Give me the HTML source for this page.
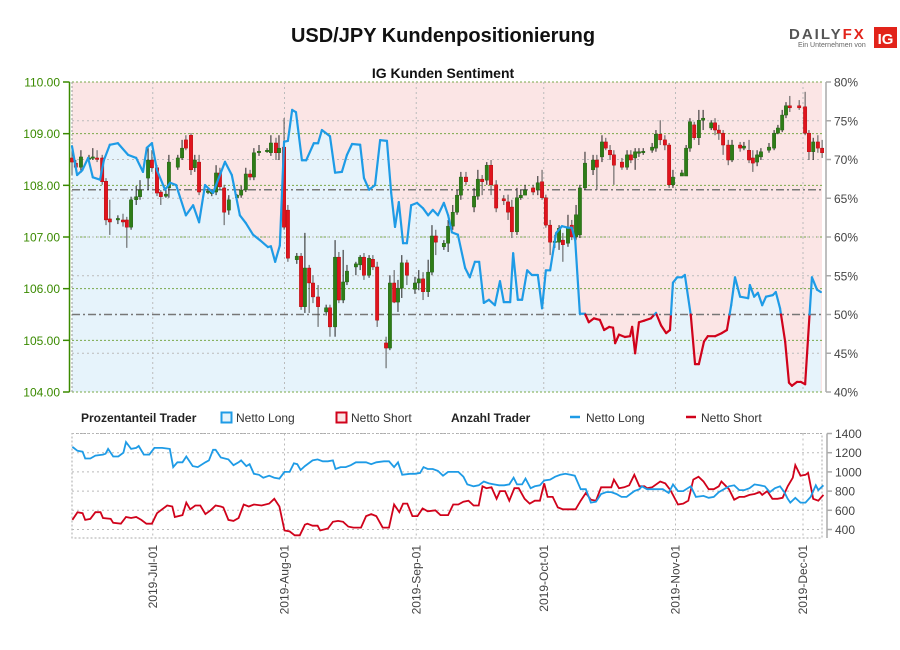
<!DOCTYPE html>
<html><head><meta charset="utf-8"><style>
html,body{margin:0;padding:0;background:#fff;}
svg{display:block;font-family:"Liberation Sans",sans-serif;}
.nar{font-family:"Liberation Sans Narrow","Liberation Sans",sans-serif;}
</style></head><body>
<svg id="chart" width="900" height="650" viewBox="0 0 900 650" xmlns="http://www.w3.org/2000/svg">
<text x="443" y="42" text-anchor="middle" font-size="20" font-weight="bold" fill="#111">USD/JPY Kundenpositionierung</text>
<text x="443" y="78" text-anchor="middle" font-size="14" font-weight="bold" fill="#111">IG Kunden Sentiment</text>
<g>
<text x="789" y="39" font-size="15" font-weight="bold" fill="#555" letter-spacing="2">DAILY<tspan fill="#e2231a">FX</tspan></text>
<text x="798" y="47" font-size="7" fill="#666">Ein Unternehmen von</text>
<rect x="874" y="27" width="23" height="21" fill="#e2231a"/>
<text x="885.5" y="44" text-anchor="middle" font-size="15" font-weight="bold" fill="#fff">IG</text>
</g>
<g id="main"></g>
<g id="legend" class="nar" font-size="12">
<text x="81" y="422" font-weight="bold" fill="#222">Prozentanteil Trader</text>
<rect x="221.5" y="412.5" width="10" height="10" fill="#e6f3fb" stroke="#1e9be6" stroke-width="2"/>
<text x="236" y="422" fill="#333">Netto Long</text>
<rect x="336.5" y="412.5" width="10" height="10" fill="#fbe5e5" stroke="#d0021b" stroke-width="2"/>
<text x="351" y="422" fill="#333">Netto Short</text>
<text x="451" y="422" font-weight="bold" fill="#222">Anzahl Trader</text>
<line x1="570" y1="417" x2="580" y2="417" stroke="#1e9be6" stroke-width="2.5"/>
<text x="586" y="422" fill="#333">Netto Long</text>
<line x1="686" y1="417" x2="696" y2="417" stroke="#d0021b" stroke-width="2.5"/>
<text x="701" y="422" fill="#333">Netto Short</text>
</g>
<g id="lower"></g>
</svg>
<script>
// ---- data ----
var monthLabels = ["2019-Jul-01","2019-Aug-01","2019-Sep-01","2019-Oct-01","2019-Nov-01","2019-Dec-01"];
var monthDays = [19,50,81,111,142,172];
var priceTicks = [110,109,108,107,106,105,104];
var pctTicks = [80,75,70,65,60,55,50,45,40];
var countTicks = [1400,1200,1000,800,600,400];
var refPct = 66.1;

var cDays = [0,0.9,2.1,4,4.9,5.9,7.1,8,8.9,10.8,12,12.9,13.9,15.1,16,17.9,18.8,20,20.9,22.1,22.8,24.9,25.9,26.8,28,28.9,29.9,32,32.9,33.9,34.8,35.8,36.9,38.8,39.8,40.9,41.9,42.8,44,45.9,46.8,48,48.7,49.9,50.8,52.9,53.9,54.8,55.8,56.7,57.9,59.8,60.7,61.9,62.8,63.8,64.7,66.8,67.8,68.7,69.9,70.8,71.8,73.9,74.8,75.8,76.7,77.6,78.8,80.7,81.6,82.6,83.8,84.7,85.6,87.5,88.5,89.6,90.6,91.5,92.7,94.6,95.5,96.5,97.6,98.6,99.8,101.6,102.6,103.5,104.7,105.6,106.6,108.5,109.6,110.6,111.5,112.5,113.6,114.6,115.5,116.7,117.6,118.6,119.5,120.7,122.6,123.5,124.7,125.6,126.6,127.5,129.4,130.6,131.5,132.5,133.4,134.4,136.5,137.4,138.4,139.5,140.5,141.4,143.5,144.5,145.4,146.4,147.5,148.5,150.4,151.3,152.2,153.2,154.4,155.3,157.2,158.1,159.3,160.2,161.2,162.1,164,165.2,166.1,167.1,168,168.9,171.1,172.5,173.4,174.4,175.5,176.5];
var cOpen = [108.53,108.43,108.35,108.51,108.53,108.53,108.53,108.08,107.35,107.33,107.33,107.33,107.19,107.72,107.78,108.14,108.49,108.34,107.87,107.79,107.95,108.35,108.53,108.88,108.97,108.34,108.45,107.87,107.85,107.87,108.24,107.95,107.52,107.76,107.81,107.91,108.22,108.16,108.63,108.66,108.63,108.82,108.63,108.74,107.52,106.56,106.63,105.65,106.40,106.11,105.84,105.55,105.63,105.26,106.61,105.78,106.13,106.42,106.46,106.61,106.26,106.57,106.42,104.95,104.85,106.11,105.74,106.01,106.50,105.99,106.11,106.19,105.94,106.32,107.02,106.81,106.88,107.21,107.48,107.81,108.16,107.58,107.79,108.12,108.10,108.39,108.01,107.74,107.68,107.58,107.10,107.76,107.81,107.95,107.91,108.07,107.76,107.23,106.90,106.90,106.94,106.88,107.23,107.00,107.04,107.95,108.30,108.49,108.55,108.84,108.68,108.59,108.45,108.35,108.59,108.53,108.63,108.63,108.68,108.72,108.99,108.88,108.78,108.01,108.18,108.18,108.72,109.17,108.92,109.26,109.11,109.21,109.07,109.01,108.78,108.49,108.78,108.72,108.68,108.53,108.45,108.55,108.68,108.72,109.01,109.07,109.36,109.54,109.54,109.52,109.01,108.65,108.84,108.72];
var cHigh = [108.78,108.49,108.68,108.59,108.72,108.68,108.59,108.14,107.72,107.42,107.45,107.39,107.78,107.99,108.10,108.72,108.68,108.39,107.91,107.91,108.59,108.59,108.88,108.97,109.01,108.59,108.59,107.95,107.91,108.39,108.34,108.01,107.81,107.83,107.99,108.34,108.30,108.72,108.78,108.72,108.97,108.92,108.97,109.30,107.62,106.69,106.69,107.08,106.46,106.26,106.07,105.69,105.69,106.94,106.71,106.75,106.46,106.52,106.65,106.69,106.65,106.65,106.52,105.07,106.26,106.36,106.17,106.65,106.56,106.23,106.36,106.32,106.56,107.23,107.14,106.94,107.33,107.62,107.91,108.26,108.26,107.95,108.30,108.20,108.45,108.49,108.10,107.81,107.82,107.72,107.95,107.91,108.01,108.01,108.18,108.30,107.82,107.33,107.04,107.23,107.08,107.43,107.33,107.62,108.01,108.65,108.59,108.59,108.97,108.92,108.78,108.68,108.53,108.68,108.68,108.72,108.72,108.72,108.82,109.07,109.26,108.97,108.82,108.30,108.30,108.78,109.30,109.23,109.46,109.46,109.26,109.30,109.17,109.07,108.88,108.88,108.84,108.84,108.88,108.68,108.68,108.72,108.82,109.07,109.17,109.46,109.61,109.73,109.65,109.81,109.07,108.92,108.97,108.88];
var cLow = [108.20,108.30,108.24,108.45,108.49,108.45,108.01,107.23,107.04,107.25,107.20,106.79,107.14,107.62,107.72,107.91,108.26,107.79,107.62,107.76,107.76,108.30,108.49,108.68,108.20,108.26,107.81,107.83,107.79,107.81,107.91,107.23,107.43,107.72,107.76,107.87,108.10,108.10,108.57,108.63,108.57,108.49,108.49,107.14,106.52,106.48,105.59,105.53,105.53,105.72,105.26,105.48,105.07,105.07,105.72,105.72,106.07,106.26,106.36,106.17,106.21,106.36,105.26,104.46,104.81,105.72,105.55,105.82,106.07,105.90,105.97,105.78,105.84,106.26,106.65,106.75,106.71,107.14,107.43,107.72,108.01,107.48,107.72,107.81,108.01,107.81,107.48,107.62,107.33,106.98,107.04,107.72,107.85,107.81,107.81,107.72,107.18,106.65,106.79,106.75,106.52,106.81,106.94,106.94,106.98,107.91,108.20,107.91,108.45,108.68,108.49,108.01,108.30,108.30,108.43,108.30,108.55,108.59,108.63,108.65,108.78,108.68,107.95,107.95,108.20,108.20,108.65,108.88,108.78,109.07,109.07,108.97,108.88,108.59,108.39,108.45,108.65,108.68,108.43,108.26,108.37,108.49,108.63,108.68,108.99,109.03,109.30,109.42,109.46,108.97,108.49,108.49,108.63,108.53];
var cClose = [108.45,108.35,108.55,108.53,108.55,108.51,108.07,107.33,107.29,107.36,107.29,107.19,107.72,107.78,107.91,108.49,108.34,107.85,107.78,107.83,108.45,108.53,108.72,108.72,108.30,108.49,107.87,107.89,107.87,108.24,107.97,107.48,107.72,107.81,107.91,108.22,108.16,108.63,108.66,108.68,108.82,108.63,108.72,107.19,106.59,106.63,105.65,106.40,106.11,105.84,105.65,105.63,105.26,106.61,105.78,106.13,106.34,106.48,106.61,106.26,106.59,106.42,105.39,104.85,106.11,105.74,106.01,106.50,106.26,106.11,106.19,105.94,106.32,107.02,106.90,106.88,107.21,107.48,107.81,108.16,108.07,107.79,108.12,108.07,108.39,108.01,107.56,107.70,107.48,107.10,107.76,107.81,107.91,107.87,108.05,107.76,107.23,106.90,106.92,107.17,106.85,107.19,107.00,107.43,107.95,108.43,108.49,108.35,108.84,108.72,108.59,108.39,108.35,108.59,108.49,108.65,108.65,108.66,108.74,108.99,108.88,108.78,108.01,108.16,108.24,108.72,109.23,108.92,109.26,109.30,109.21,109.07,109.01,108.78,108.49,108.78,108.72,108.76,108.49,108.43,108.59,108.65,108.74,109.01,109.11,109.36,109.54,109.50,109.50,109.01,108.65,108.84,108.72,108.63];

var sDays = [0,1.2,2.4,3.8,4.9,6.6,7.5,8.9,10.8,13.2,15.1,16.7,17.6,18.8,20,21.9,23.1,24.5,26.8,28.5,29.9,31.3,33.2,36,37.6,39.5,40.9,42.6,44.2,46.1,46.8,47.8,48.9,49.9,50.8,51.8,52.7,54.1,55.1,56.9,57.9,58.8,60.7,61.9,63.5,64.7,65.9,67.8,68.7,69.9,71.3,72.5,74.1,75.1,76,76.9,77.9,78.8,79.8,81.2,82.6,83.8,84.9,86.1,87.5,88.5,89.4,90.8,92.5,93.6,94.8,95.8,96.9,98.1,99.5,100.7,101.6,103.1,103.8,104.9,105.9,107.1,108.2,109.6,110.6,111.5,112.5,113.9,115.3,116.7,117.6,118.4,119.5,120.7,121.6,122.8,124.2,125.2,126.4,127.3,127.8,128.7,130.1,131.3,131.8,132.5,133.4,134.6,136.2,137.4,138.6,139.8,140.7,141.4,142.4,143.5,144.2,145.6,146.6,147.5,148.7,149.6,151.3,152.9,154.1,155.1,156,157.2,159.1,159.5,160.5,161.4,162.4,163.3,164.9,165.6,166.6,167.8,168.7,169.4,170.6,171.5,172.5,174.1,175.3,176.2];
var sLongPct = [71.7,68.0,68.6,70.2,67.7,67.4,69.9,71.9,72.1,70.6,70.2,68.4,71.5,72.1,68.6,66.1,67.0,66.7,62.8,64.1,61.9,66.7,65.7,69.7,68.0,62.8,61.8,60.3,59.6,58.7,58.8,56.8,58.9,72.3,72.4,76.4,76.1,69.9,69.9,72.1,72.1,73.8,73.0,68.3,68.4,70.6,72.0,71.9,67.6,66.1,66.7,72.5,72.4,65.7,61.3,64.5,59.2,59.2,64.1,64.4,63.7,62.8,63.5,62.8,64.4,62.8,60.6,60.3,56.0,54.8,56.8,56.8,51.5,51.9,51.2,54.3,51.6,51.6,57.9,51.9,51.9,55.7,55.1,55.1,50.8,55.7,55.7,60.5,61.4,61.2,61.2,59.6,50.1,50.1,49.0,49.5,49.3,48.0,48.4,48.3,46.3,47.4,47.1,47.2,48.4,45.0,49.0,49.2,49.5,50.2,48.6,47.6,48.0,54.1,54.8,54.8,55.1,49.9,43.6,43.6,46.5,47.2,47.2,47.6,48.0,51.2,54.8,52.3,52.1,53.8,52.3,52.8,51.2,52.3,52.5,52.9,50.8,46.5,41.2,40.8,41.3,41.3,41.0,54.8,53.2,52.9];

var longDays = [0.1,1.3,2.5,3.1,4.3,5.5,7.3,7.9,8.5,9.7,10.9,12.1,12.7,13.9,15.1,15.7,16.9,18.2,19.4,21.2,23.0,23.8,24.8,26.0,26.9,28.4,29.6,31.4,32.2,33.2,33.8,35.0,36.8,38.0,39.2,39.8,41.0,41.8,42.8,44.0,45.0,46.4,47.6,48.8,50.0,51.2,52.2,53.0,53.8,54.8,56.6,57.8,59.0,60.2,61.4,62.0,63.2,64.4,65.6,66.8,69.2,70.4,71.6,73.4,74.6,75.8,76.7,77.7,79.5,80.7,81.9,82.7,83.7,84.9,86.1,87.3,88.5,90.9,92.1,93.0,94.5,95.7,96.9,98.1,99.3,100.5,101.7,102.9,103.9,104.7,105.9,106.7,107.9,108.9,110.1,111.1,112.5,113.7,114.9,116.1,117.3,118.3,119.7,120.9,122.1,123.3,124.5,125.7,126.9,128.1,129.3,130.5,131.1,132.3,133.5,134.1,135.3,136.5,137.7,139.0,140.4,141.4,142.6,143.8,145.6,146.8,148.6,149.8,151.0,152.2,153.4,154.6,155.8,157.0,158.2,159.4,160.6,161.8,163.0,164.2,165.4,166.6,167.6,168.4,169.0,170.2,171.4,172.6,173.8,175.0,175.6,176.8];
var longCount = [1260,1220,1210,1140,1140,1170,1180,1190,1240,1160,1160,1200,1310,1240,1250,1270,1180,1180,1250,1250,1240,1050,1100,1100,1160,1060,1050,1100,1120,1230,1230,1150,1130,1070,1100,1120,1060,1080,980,970,940,960,940,930,1000,1000,1090,1080,1020,1060,1120,1130,1110,1110,1120,1030,1050,1050,1070,1100,1100,1080,1100,1110,1110,1050,1100,970,980,980,990,1050,1030,1030,1010,960,1000,1000,950,870,850,860,900,880,870,860,860,870,940,870,870,930,830,850,860,910,920,950,970,980,970,960,820,820,680,690,770,790,790,770,740,740,760,800,820,850,820,820,820,820,780,870,800,800,850,740,750,730,740,790,820,850,860,810,810,830,870,860,850,790,830,850,790,720,680,730,680,680,740,860,810,860];
var shortDays = [0.1,1.3,2.5,3.1,4.3,5.5,6.7,7.3,9.1,9.7,11.5,12.7,13.9,15.1,16.3,17.5,18.8,20.0,21.2,22.4,23.6,24.2,26.0,26.9,27.8,29.0,30.2,31.4,32.6,33.8,35.0,35.6,36.8,38.0,39.2,40.4,41.6,42.8,44.6,46.4,47.6,48.8,50.0,51.2,52.4,53.6,54.8,55.4,56.6,57.8,58.4,60.2,61.4,62.6,63.8,65.0,66.2,68.0,69.2,70.4,71.6,73.1,74.6,75.8,77.0,77.9,78.9,80.1,81.3,82.5,83.7,85.5,86.7,88.5,89.7,90.9,92.1,93.3,94.5,95.7,96.6,97.5,98.7,99.9,100.7,101.9,102.9,104.1,105.1,106.5,107.7,108.9,110.1,111.1,111.9,113.1,114.3,115.5,117.3,118.5,119.7,120.9,122.1,123.3,124.5,126.9,127.5,128.7,129.9,131.1,132.3,133.5,134.7,135.3,136.5,138.4,139.6,140.8,142.6,143.8,145.0,146.2,147.4,148.6,149.8,151.0,152.2,152.8,154.6,155.8,157.0,158.2,159.4,160.6,161.8,162.4,163.6,164.8,166.0,167.2,168.4,169.6,170.2,171.4,172.6,173.2,174.4,175.6,176.8];
var shortCount = [500,580,570,500,510,580,580,520,510,470,460,530,520,530,500,460,460,570,610,650,640,530,550,680,610,650,650,560,600,650,640,630,500,490,520,660,640,660,650,670,720,640,390,380,340,340,450,460,440,440,390,410,480,490,480,430,420,420,540,560,540,420,420,660,580,670,670,540,540,620,590,600,550,550,660,660,690,700,650,650,850,830,840,720,800,800,700,830,830,720,670,700,700,880,740,740,630,610,610,610,700,780,710,700,840,840,920,830,840,860,970,850,850,830,840,900,880,810,660,670,700,920,950,900,820,820,850,900,820,710,740,740,760,770,790,760,800,720,720,730,850,940,1070,960,970,990,720,700,760];

// ---- scales ----
var X0 = 72, X1 = 822, DAY_PX = 4.25;
function xs(d){ return X0 + d*DAY_PX; }
var Y0 = 82, Y1 = 392;
function yPrice(p){ return Y0 + (110-p)/(110-104)*(Y1-Y0); }
function yPct(p){ return Y0 + (80-p)/(80-40)*(Y1-Y0); }
var CY0 = 433.5, CY1 = 529.5;
function yCount(v){ return CY0 + (1400-v)/(1400-400)*(CY1-CY0); }

var NS = "http://www.w3.org/2000/svg";
function mk(parent, tag, attrs){
  var el = document.createElementNS(NS, tag);
  for (var k in attrs) el.setAttribute(k, attrs[k]);
  parent.appendChild(el);
  return el;
}
var main = document.getElementById('main');
var lower = document.getElementById('lower');

// ---- backgrounds & fills ----
var bg = mk(main,'rect',{x:X0,y:Y0,width:X1-X0,height:Y1-Y0,fill:'#fbe5e5'});


var areaD = 'M'+xs(sDays[0])+','+Y1;
for (var i=0;i<sDays.length;i++) areaD += ' L'+xs(sDays[i]).toFixed(1)+','+yPct(sLongPct[i]).toFixed(1);
areaD += ' L'+xs(sDays[sDays.length-1]).toFixed(1)+','+Y1+' Z';
var area = mk(main,'path',{d:areaD,fill:'#e6f3fb'});



// ---- grid ----
priceTicks.forEach(function(p){
  var y = yPrice(p);
  var g = mk(main,'line',{x1:X0,x2:X1,y1:y,y2:y,stroke:'#7aa84a','stroke-width':1,'stroke-dasharray':'2,2'});
  
  
});
pctTicks.forEach(function(p){
  if (p===80||p===40||p===50) return;
  var y = yPct(p);
  var g = mk(main,'line',{x1:X0,x2:X1,y1:y,y2:y,stroke:'#bbb','stroke-width':1,'stroke-dasharray':'2,3'});
  
  
});
monthDays.forEach(function(d){
  var x = xs(d);
  var g = mk(main,'line',{x1:x,x2:x,y1:Y0,y2:Y1,stroke:'#bbb','stroke-width':1,'stroke-dasharray':'2,3'});
  
  
});
var lb = mk(main,'line',{x1:X0,x2:X0,y1:Y0,y2:Y1,stroke:'#999','stroke-dasharray':'2,2'});



// reference lines
[refPct,50].forEach(function(p){
  var y = yPct(p);
  var r = mk(main,'line',{x1:X0,x2:X1,y1:y,y2:y,stroke:'#777','stroke-width':1.5,'stroke-dasharray':'8,3,2,3'});
  
  
});

// ---- candles ----
for (var i=0;i<cDays.length;i++){
  var cx = xs(cDays[i]);
  var up = cClose[i] >= cOpen[i];
  var w = mk(main,'line',{x1:cx,x2:cx,y1:yPrice(cHigh[i]),y2:yPrice(cLow[i]),stroke: up?'#222':'#555','stroke-width':1});
  
  
  var bTop = yPrice(Math.max(cOpen[i],cClose[i])), bBot = yPrice(Math.min(cOpen[i],cClose[i]));
  var bh = Math.max(bBot-bTop,1.5);
  var b = mk(main,'rect',{x:cx-1.7,y:bTop,width:3.4,height:bh,fill: up?'#2e7d17':'#e0141e',stroke: up?'#1f5a10':'#a00','stroke-width':0.4});
  
  
}

// ---- sentiment line (blue above 50, red below) ----
for (var i=0;i<sDays.length-1;i++){
  var d1=sDays[i], v1=sLongPct[i], d2=sDays[i+1], v2=sLongPct[i+1];
  var parts=[];
  if ((v1-50)*(v2-50) < 0){
    var t=(50-v1)/(v2-v1), dm=d1+t*(d2-d1);
    parts.push([d1,v1,dm,50,v1<50]); parts.push([dm,50,d2,v2,v2<50]);
  } else parts.push([d1,v1,d2,v2,(v1+v2)/2<50]);
  parts.forEach(function(s){
    var seg = mk(main,'line',{x1:xs(s[0]),y1:yPct(s[1]),x2:xs(s[2]),y2:yPct(s[3]),stroke:s[4]?'#d0021b':'#1e9be6','stroke-width':2.2,'stroke-linecap':'round'});
    
    
  });
}

// ---- axes ----
var la = mk(main,'line',{x1:69.5,x2:69.5,y1:Y0,y2:Y1,stroke:'#3a8a00','stroke-width':1.5});


priceTicks.forEach(function(p){
  var y = yPrice(p);
  var t = mk(main,'line',{x1:63,x2:69.5,y1:y,y2:y,stroke:'#3a8a00','stroke-width':1.5});
  
  
  var tx = mk(main,'text',{x:60,y:y+4.5,'text-anchor':'end','font-size':12,fill:'#3a8a00','class':'nar'});
  tx.textContent = p.toFixed(2);
  
  
});
var ra = mk(main,'line',{x1:826,x2:826,y1:Y0,y2:Y1,stroke:'#aaa','stroke-width':1.5});


pctTicks.forEach(function(p){
  var y = yPct(p);
  var t = mk(main,'line',{x1:826,x2:831,y1:y,y2:y,stroke:'#aaa','stroke-width':1.5});
  
  
  var tx = mk(main,'text',{x:834,y:y+4.5,'font-size':12,fill:'#444','class':'nar'});
  tx.textContent = p+'%';
  
  
});

// ---- lower panel ----
var lbox = mk(lower,'rect',{x:X0,y:CY0,width:X1-X0,height:538-CY0,fill:'none',stroke:'#aaa','stroke-dasharray':'2,2'});


countTicks.forEach(function(v){
  var y = yCount(v);
  var g = mk(lower,'line',{x1:X0,x2:X1,y1:y,y2:y,stroke:'#bbb','stroke-dasharray':'2,3'});
  
  
  var t = mk(lower,'line',{x1:827,x2:832,y1:y,y2:y,stroke:'#aaa','stroke-width':1.5});
  
  
  var tx = mk(lower,'text',{x:835,y:y+4.5,'font-size':12,fill:'#444','class':'nar'});
  tx.textContent = v;
  
  
});
var ca = mk(lower,'line',{x1:827,x2:827,y1:CY0,y2:538,stroke:'#aaa','stroke-width':1.5});


monthDays.forEach(function(d,i){
  var x = xs(d);
  var g = mk(lower,'line',{x1:x,x2:x,y1:CY0,y2:538,stroke:'#bbb','stroke-dasharray':'2,3'});
  
  
  var tx = mk(lower,'text',{transform:'translate('+(x+4)+',545) rotate(-90)','text-anchor':'end','font-size':12,fill:'#444','class':'nar'});
  tx.textContent = monthLabels[i];
  
  
});
function linePath(days, vals){
  var d='';
  for (var i=0;i<days.length;i++) d += (i?' L':'M')+xs(days[i]).toFixed(1)+','+yCount(vals[i]).toFixed(1);
  return d;
}
var sl = mk(lower,'path',{d:linePath(shortDays,shortCount),fill:'none',stroke:'#d0021b','stroke-width':1.8});


var ll = mk(lower,'path',{d:linePath(longDays,longCount),fill:'none',stroke:'#1e9be6','stroke-width':1.8});


</script>
</body></html>
